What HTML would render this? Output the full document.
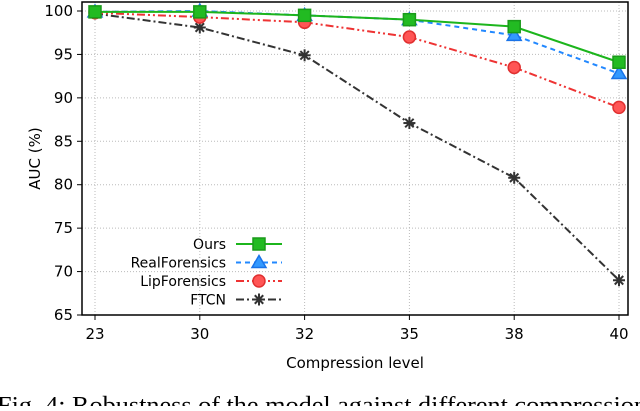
<!DOCTYPE html>
<html><head><meta charset="utf-8"><style>
body{margin:0;background:#fff;width:640px;height:406px;overflow:hidden}
text{font-family:"DejaVu Sans","Liberation Sans",sans-serif;fill:#000}
</style></head><body>
<svg id="c" width="640" height="406"></svg>
<script>
const categories=["23","30","32","35","38","40"];
const yTicks=[65,70,75,80,85,90,95,100];
const ours=[99.9,99.9,99.5,99.0,98.2,94.1];
const realF=[99.9,100.0,99.5,99.0,97.2,92.8];
const lipF=[99.8,99.3,98.7,97.0,93.5,88.9];
const ftcn=[99.7,98.1,94.9,87.1,80.8,69.0];
const NS="http://www.w3.org/2000/svg",svg=document.getElementById('c');
const L=82,R=628,T=2,B=315;
const x=i=>95+i*(619-95)/(categories.length-1);
const y=v=>B-(v-65)*(B-11)/35;
function mk(t,a,p){const e=document.createElementNS(NS,t);for(const k in a)e.setAttribute(k,a[k]);(p||svg).appendChild(e);return e;}
const g=mk('g',{});


categories.forEach((c,i)=>{
  mk('line',{x1:x(i),x2:x(i),y1:T,y2:B,stroke:'#bbb','stroke-dasharray':'1,2'},g);
  mk('line',{x1:x(i),x2:x(i),y1:B,y2:B+5,stroke:'#000'});
  const t=mk('text',{x:x(i),y:B+24,'text-anchor':'middle','font-size':15});t.textContent=c;
  
  
});
yTicks.forEach(v=>{
  mk('line',{x1:L,x2:R,y1:y(v),y2:y(v),stroke:'#bbb','stroke-dasharray':'1,2'},g);
  mk('line',{x1:L-5,x2:L,y1:y(v),y2:y(v),stroke:'#000'});
  const t=mk('text',{x:L-9,y:y(v)+5,'text-anchor':'end','font-size':15});t.textContent=v;
  
  
});
const fr=mk('rect',{x:L,y:T,width:R-L,height:B-T,fill:'none',stroke:'#000','stroke-width':1.5});


function marker(k,cx,cy,col,p){
  if(k==='sq')mk('rect',{x:cx-6,y:cy-6,width:12,height:12,fill:'#22bb22',stroke:'#1a9a1a','stroke-width':1.5},p);
  else if(k==='tri')mk('polygon',{points:`${cx},${cy-7} ${cx-7},${cy+5} ${cx+7},${cy+5}`,fill:'#3399ff',stroke:'#1a73e8','stroke-width':1.5},p);
  else if(k==='circ'){mk('circle',{cx,cy,r:6,fill:'#ff5555',stroke:'#e03030','stroke-width':1.5},p);}
  else{for(const a of [0,45,90,135]){const r=a*Math.PI/180;mk('line',{x1:cx-6*Math.cos(r),y1:cy-6*Math.sin(r),x2:cx+6*Math.cos(r),y2:cy+6*Math.sin(r),stroke:'#333','stroke-width':2},p);}}
}
const series=[
 {name:'Ours',d:ours,col:'#1cb51c',dash:'',m:'sq',id:'series-ours'},
 {name:'RealForensics',d:realF,col:'#2288ff',dash:'5,4',m:'tri',id:'series-realforensics'},
 {name:'LipForensics',d:lipF,col:'#ee3333',dash:'8,3,2,3,2,3',m:'circ',id:'series-lipforensics'},
 {name:'FTCN',d:ftcn,col:'#333',dash:'8,3,2,3',m:'star',id:'series-ftcn'}];
series.slice().reverse().forEach(s=>{
  const sg=mk('g',{});
  
  
  mk('polyline',{points:s.d.map((v,i)=>x(i)+','+y(v)).join(' '),fill:'none',stroke:s.col,'stroke-width':2,'stroke-dasharray':s.dash},sg);
  s.d.forEach((v,i)=>marker(s.m,x(i),y(v),s.col,sg));
});
series.forEach((s,j)=>{
  const ly=244+j*18.5;
  const lg=mk('g',{});
  
  
  const t=mk('text',{x:226,y:ly+5,'text-anchor':'end','font-size':14},lg);t.textContent=s.name;
  mk('line',{x1:236,x2:282,y1:ly,y2:ly,stroke:s.col,'stroke-width':2,'stroke-dasharray':s.dash},lg);
  marker(s.m,259,ly,s.col,lg);
});
let t=mk('text',{x:355,y:368,'text-anchor':'middle','font-size':15});t.textContent='Compression level';


t=mk('text',{x:0,y:0,'text-anchor':'middle','font-size':15,transform:`translate(40,${(T+B)/2}) rotate(-90)`});t.textContent='AUC (%)';


t=mk('text',{x:-3,y:413,'font-size':24,textLength:650,lengthAdjust:'spacingAndGlyphs',style:'font-family:"Liberation Serif",serif'});t.textContent='Fig. 4: Robustness of the model against different compression';


</script>
</body></html>
